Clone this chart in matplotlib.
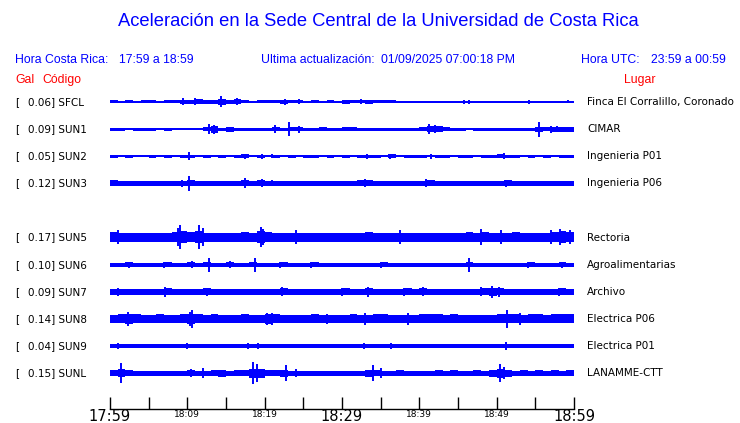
import numpy as np
import matplotlib
matplotlib.use("Agg")
import matplotlib.pyplot as plt
import matplotlib.transforms as mtransforms

# ---------------- data ----------------
codes = ["SFCL", "SUN1", "SUN2", "SUN3", "SUN5", "SUN6", "SUN7", "SUN8", "SUN9", "SUNL"]
gals = ["0.06", "0.09", "0.05", "0.12", "0.17", "0.10", "0.09", "0.14", "0.04", "0.15"]
places = ["Finca El Corralillo, Coronado", "CIMAR", "Ingenieria P01", "Ingenieria P06",
          "Rectoria", "Agroalimentarias", "Archivo", "Electrica P06", "Electrica P01", "LANAMME-CTT"]
slots = [0, 1, 2, 3, 5, 6, 7, 8, 9, 10]

# envelope half-amplitude per minute (pixels of display), minutes 0..59
env_SFCL = [1.5,1.2,1.5,1.2,1.5,1.5,1.2,1.5,1.5,2.0, 2.0,2.5,2.0,2.0,3.0,2.0,2.5,1.5,1.2,1.5,
            1.5,1.5,2.0,1.5,1.5,1.2,1.5,1.2,1.5,1.2, 2.0,1.5,1.5,2.0,1.5,1.5,1.5,0.6,0.6,0.6,
            0.6,0.6,0.6,0.6,0.6,0.6,0.6,0.6,0.6,0.6, 0.6,0.6,0.6,0.6,0.6,0.6,0.6,0.6,0.6,0.6]
env_SUN1 = [1.5,1.5,1.2,1.5,1.5,1.5,1.2,1.5,0.8,1.2, 0.8,1.2,2.0,3.5,1.5,2.5,1.5,1.5,1.5,1.5,
            1.5,2.0,1.5,2.0,2.0,1.5,1.5,2.0,1.5,1.5, 2.0,2.0,1.5,1.5,1.5,1.5,1.5,1.5,1.5,1.5,
            2.0,3.0,3.0,2.0,1.5,1.5,1.2,1.5,1.5,1.5, 1.5,1.5,1.5,1.5,1.5,2.5,2.0,2.5,2.5,2.5]
env_SUN2 = [1.5,1.2,1.5,1.2,1.2,1.5,1.2,1.5,1.2,1.5, 1.5,1.2,1.5,1.2,1.5,1.2,1.5,1.8,1.2,1.5,
            1.2,1.5,1.2,1.5,1.2,1.5,1.5,1.2,1.5,1.2, 1.5,1.2,1.5,1.5,1.5,1.2,1.8,1.2,1.5,1.5,
            1.5,1.2,1.5,1.5,1.2,1.5,1.5,1.2,1.5,1.5, 1.8,1.5,1.5,1.2,1.5,1.2,1.5,1.2,1.5,1.5]
env_SUN3 = [3.0,2.5,2.5,2.5,2.5,2.5,2.5,2.5,2.5,2.5, 3.0,2.5,2.5,2.5,2.5,2.5,2.5,3.0,2.5,3.0,
            2.5,2.5,2.5,2.5,2.5,2.5,2.5,2.5,2.5,2.5, 2.5,2.5,3.0,3.0,2.5,2.5,2.5,2.5,2.5,2.5,
            2.5,3.0,2.5,2.5,2.5,2.5,2.5,2.5,2.5,2.5, 2.5,3.0,2.5,2.5,2.5,2.5,2.5,2.5,2.5,2.5]
env_SUN5 = [5,4.5,4.5,4.5,4.5,4.5,4.5,4.5,5,6, 5,6,4.5,4.5,4.5,4.5,4.5,5,4.5,6,
            5,4.5,4.5,4.5,4.5,4.5,4.5,4.5,4.5,4.5, 4.5,4.5,4.5,5,4.5,4.5,4.5,4.5,4.5,4.5,
            4.5,4.5,4.5,4.5,4.5,4.5,5,4.5,5,4.5, 4.5,4.5,5,4.5,4.5,4.5,4.5,5,6,5]
env_SUN6 = [2,2,2.5,2,2,2,2,2.5,2,2, 2.5,2,2.5,2,2,2.5,2,2,2.5,2, 2,2,2.5,2,2,2,2.5,2,2,2,
            2,2,2,2,2,2.5,2,2,2,2, 2,2,2,2,2,2,2.5,2,2,2, 2,2,2,2,2.5,2,2,2,2.5,2]
env_SUN7 = [3,3,3,3,3,3,3,3.5,3,3, 3,3,3.5,3,3,3,3,3,3,3, 3,3,3.5,3,3,3,3,3,3,3,
            3.5,3,3,3.5,3,3,3,3,3.5,3, 3.5,3,3,3,3,3,3,3,3.5,4, 3.5,3,3,3,3,3,3,3,3.5,3]
env_SUN8 = [4,4.5,5,4.5,4,4,4.5,4,4,4.5, 5,4.5,4,4.5,4,4,4,4.5,4,4, 5,4.5,4,4,4,4,4.5,4,4,4,
            4,4.5,4,4,4.5,4.5,4,4,4,4, 4.5,4.5,4.5,4,4.5,4,4,4,4,4, 4.5,4.5,4.5,4,4.5,4.5,4,4.5,4.5,4.5]
env_SUN9 = [2,2,2,2,2,2,2,2,2,2, 2,2,2,2,2,2,2,2,2,2, 2,2,2,2,2,2,2,2,2,2,
            2,2,2,2,2,2,2,2,2,2, 2,2,2,2,2,2,2,2,2,2, 2,2,2,2,2,2,2,2,2,2]
env_SUNL = [3,4,3,2.5,2.5,2.5,2.5,2.5,2.5,2.5, 3,2.5,2.5,3,3.5,2.5,3,3,4.5,4.5,
            3,3,3.5,2.5,2.5,2.5,2.5,2.5,2.5,2.5, 2.5,2.5,2.5,3.5,3,2.5,2.5,3,2.5,2.5,
            2.5,2.5,3,2.5,3,2.5,2.5,3,2.5,3.5, 4.5,3.5,2.5,3,2.5,3,2.5,3,2.5,3]

# spikes: (minute, half-amplitude)
spk_SFCL = [(9.5,3.5),(11.0,3.5),(14.4,5.5),(16.4,3.5),(22.6,3.0),(24.5,2.5),(32.4,2.5),
            (45.8,2.0),(46.4,2.0),(54.2,2.0),(59.2,1.5)]
spk_SUN1 = [(12.8,5.0),(13.4,4.5),(21.3,4.0),(23.2,7.0),(24.5,3.5),(41.2,5.0),(42.0,4.0),
            (55.5,7.5),(57.0,3.5),(57.8,3.0)]
spk_SUN2 = [(10.2,4.0),(17.5,2.5),(19.7,2.5),(21.0,2.0),(33.2,2.5),(36.2,2.5),(41.5,2.5),(51.0,3.0)]
spk_SUN3 = [(10.2,7.5),(9.3,3.5),(17.5,5.0),(19.7,4.0),(21.0,3.0),(33.0,4.0),(40.8,4.0),(51.2,3.5)]
spk_SUN5 = [(1.0,7),(9.1,12),(11.5,12),(19.5,10),(8.8,9),(12.0,9),(19.8,8),(24.0,7),(37.5,7),
            (48.0,8),(50.5,7),(57.0,7),(58.2,8),(59.5,7)]
spk_SUN6 = [(2.5,3),(7.0,3),(10.6,3.5),(12.8,7),(15.5,3.5),(18.7,7),(22.0,3),(26.0,3),(35.0,3),
            (46.4,7),(54.0,3),(58.5,3)]
spk_SUN7 = [(1.0,4),(7.1,5),(12.5,4),(22.3,4.5),(30.0,4),(33.3,5),(38.0,4),(40.5,4.5),(48.0,4.5),
            (49.4,6),(50.3,5),(58.0,4)]
spk_SUN8 = [(2.3,7),(10.3,7),(10.6,9),(20.3,6),(21.0,6),(28.0,5),(33.0,6),(38.5,6),(51.4,9),(53.0,6)]
spk_SUN9 = [(1.0,3),(10.0,3),(17.8,3),(19.2,3),(32.8,3),(36.3,3),(51.2,4)]
spk_SUNL = [(1.4,10),(10.5,4),(12.0,5),(18.5,11),(19.0,9),(22.7,8),(24.0,4),(34.0,8),(35.0,5),
            (50.4,9),(51.0,6)]

envs = [env_SFCL, env_SUN1, env_SUN2, env_SUN3, env_SUN5, env_SUN6, env_SUN7, env_SUN8, env_SUN9, env_SUNL]
spikes = [spk_SFCL, spk_SUN1, spk_SUN2, spk_SUN3, spk_SUN5, spk_SUN6, spk_SUN7, spk_SUN8, spk_SUN9, spk_SUNL]

tick_minutes = [0, 5, 10, 15, 20, 25, 30, 35, 40, 45, 50, 55, 60]
tick_labels = {0: "17:59", 10: "18:09", 20: "18:19", 30: "18:29", 40: "18:39", 50: "18:49", 60: "18:59"}
big_labels = [0, 30, 60]

# ---------------- figure ----------------
W, H, DPI = 740, 423, 100
fig = plt.figure(figsize=(W / DPI, H / DPI), dpi=DPI)
fig.patch.set_facecolor("white")

row_px = 27.1
top_row_px = 102
ax_top_px, ax_bot_px = 90, 409
ax_left_px, ax_right_px = 110, 574
ax = fig.add_axes([ax_left_px / W, 1 - ax_bot_px / H,
                   (ax_right_px - ax_left_px) / W, (ax_bot_px - ax_top_px) / H])
ymin = (ax_top_px - top_row_px) / row_px
ymax = (ax_bot_px - top_row_px) / row_px
ax.set_xlim(0, 60)
ax.set_ylim(ymax, ymin)
pxu = 1.0 / row_px  # one pixel in y data units

BLUE = "#0000ff"
edges = np.arange(61)
for slot, env, spk in zip(slots, envs, spikes):
    e = np.array(env + [env[-1]], dtype=float) * pxu
    ax.fill_between(edges, slot - e, slot + e, step="post", color=BLUE, lw=0)
    t = np.array([s[0] for s in spk])
    h = np.array([s[1] for s in spk]) * pxu
    ax.vlines(t, slot - h, slot + h, color=BLUE, lw=1.4)

for s in ["top", "left", "right"]:
    ax.spines[s].set_visible(False)
ax.spines["bottom"].set_linewidth(1.0)
ax.set_yticks([])
ax.set_xticks(tick_minutes)
ax.set_xticklabels([""] * len(tick_minutes))
ax.tick_params(axis="x", direction="in", length=9, width=1.0, color="black")

btrans = mtransforms.blended_transform_factory(ax.transData, fig.transFigure)
for m, lab in tick_labels.items():
    if m in big_labels:
        fig.text(m, 1 - 416.5 / H, lab, transform=btrans, fontsize=10.5, ha="center", va="center",
                 family="DejaVu Sans")
    else:
        fig.text(m, 1 - 414 / H, lab, transform=btrans, fontsize=6.5, ha="center", va="center",
                 family="DejaVu Sans")

# row labels
rtrans = mtransforms.blended_transform_factory(fig.transFigure, ax.transData)
for slot, g, c, p in zip(slots, gals, codes, places):
    fig.text(15 / W, slot, "[", transform=rtrans, fontsize=7.5, va="center", ha="left")
    fig.text(28 / W, slot, f"{g}] {c}", transform=rtrans, fontsize=7.5, va="center", ha="left")
    fig.text(587 / W, slot, p, transform=rtrans, fontsize=7.5, va="center", ha="left")

# header texts
hf = "Liberation Sans"
fig.text(378 / W, 1 - 22 / H, "Aceleración en la Sede Central de la Universidad de Costa Rica",
         color=BLUE, fontsize=13.2, ha="center", va="center", family=hf)
hy = 1 - 60 / H
fig.text(15 / W, hy, "Hora Costa Rica:", color=BLUE, fontsize=8.8, va="center", family=hf)
fig.text(119 / W, hy, "17:59 a 18:59", color=BLUE, fontsize=8.8, va="center", family=hf)
fig.text(261 / W, hy, "Ultima actualización:", color=BLUE, fontsize=8.8, va="center", family=hf)
fig.text(381 / W, hy, "01/09/2025 07:00:18 PM", color=BLUE, fontsize=8.8, va="center", family=hf)
fig.text(581 / W, hy, "Hora UTC:", color=BLUE, fontsize=8.8, va="center", family=hf)
fig.text(651 / W, hy, "23:59 a 00:59", color=BLUE, fontsize=8.8, va="center", family=hf)
ry = 1 - 80 / H
fig.text(15 / W, ry, "Gal", color="red", fontsize=8.8, va="center", family=hf)
fig.text(42 / W, ry, "Código", color="red", fontsize=8.8, va="center", family=hf)
fig.text(624 / W, ry, "Lugar", color="red", fontsize=8.8, va="center", family=hf)

fig.savefig("out.png", dpi=DPI, facecolor="white")
